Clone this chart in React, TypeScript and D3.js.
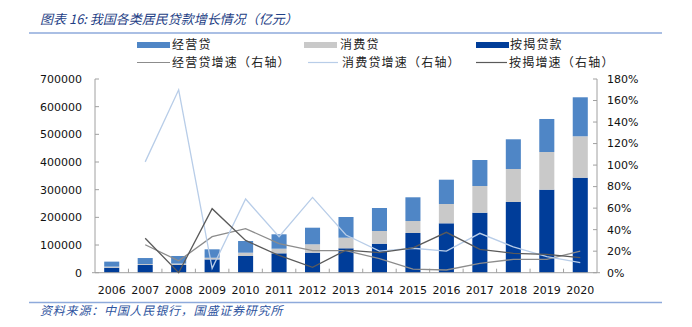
import React from "react";
import * as d3 from "d3";

const years = ["2006","2007","2008","2009","2010","2011","2012","2013","2014","2015","2016","2017","2018","2019","2020"];
const mortgage = [18000, 27800, 28000, 48000, 60400, 70000, 72300, 88200, 104800, 143500, 178500, 216800, 255500, 300000, 343300];
const consumer = [4000, 3500, 5000, 6000, 11900, 16700, 30300, 38300, 45900, 43300, 69800, 96500, 119300, 136200, 149700];
const business = [18000, 21700, 27400, 30500, 42200, 52100, 60000, 74800, 83100, 85700, 87800, 94000, 107300, 119300, 140900];
const busGrowth = [null, 26, 11, 33.5, 41, 27, 20.5, 20.5, 13, 3.4, 2.5, 8.7, 12.4, 12.4, 20];
const conGrowth = [null, 103, 170, 4, 68.5, 33.5, 70, 35, 20, 22.7, 20, 36.6, 24, 15, 9.3];
const mortGrowth = [null, 32, 0, 59.5, 30, 16, 5, 21, 18.6, 23, 37.5, 21.7, 18, 17, 14];
const leftTicks = [0, 100000, 200000, 300000, 400000, 500000, 600000, 700000];
const rightTicks = [0, 20, 40, 60, 80, 100, 120, 140, 160, 180];

const C_BUS = "#4f86c6";
const C_CON = "#c9c9c9";
const C_MORT = "#003d99";
const C_BUSG = "#8c8c8c";
const C_CONG = "#b8cde8";
const C_MORTG = "#5a5a5a";
const AXIS = "#a0a0a0";
const NUMFONT = "'DejaVu Sans', Verdana, sans-serif";
const CJK = "'Noto Sans CJK SC', sans-serif";

export default function App() {
  const W = 692, H = 327;
  const x0 = 95, x1 = 597, yTop = 79, yBot = 272.7;
  const x = d3.scaleBand<string>().domain(years).range([x0, x1]).paddingInner(0.55).paddingOuter(0.275);
  const xb = d3.scaleBand<string>().domain(years).range([x0, x1]);
  const yL = d3.scaleLinear().domain([0, 700000]).range([yBot, yTop]);
  const yR = d3.scaleLinear().domain([0, 180]).range([yBot, yTop]);

  const rows = years.map((yr, i) => ({ yr, mortgage: mortgage[i], consumer: consumer[i], business: business[i] }));
  const stack = d3.stack<any>().keys(["mortgage", "consumer", "business"])(rows);
  const colors: Record<string, string> = { mortgage: C_MORT, consumer: C_CON, business: C_BUS };

  const cx = (i: number) => (xb(years[i]) as number) + xb.bandwidth() / 2;
  const line = d3.line<number | null>()
    .defined((d) => d !== null)
    .x((_, i) => cx(i))
    .y((d) => yR(d as number));

  const series = [
    { data: busGrowth, color: C_BUSG },
    { data: conGrowth, color: C_CONG },
    { data: mortGrowth, color: C_MORTG },
  ];

  return (
    <svg width={W} height={H} style={{ position: "absolute", left: 0, top: 0, background: "#fff" }}>
      <text x={40} y={24} fontFamily={CJK} fontSize={13} fontStyle="italic" fill="#1f3f86">
        图表 16: 我国各类居民贷款增长情况（亿元）
      </text>
      <line x1={29} x2={662} y1={33} y2={33} stroke="#8eaadb" strokeWidth={1.5} />

      {/* legend */}
      <g fontFamily={CJK} fontSize={12} fill="#222" letterSpacing={1.2}>
        <rect x={137} y={42} width={33} height={6} fill={C_BUS} />
        <text x={172} y={49}>经营贷</text>
        <rect x={304} y={42} width={33} height={6} fill={C_CON} />
        <text x={340} y={49}>消费贷</text>
        <rect x={476} y={42} width={33} height={6} fill={C_MORT} />
        <text x={510} y={49}>按揭贷款</text>
        <line x1={137} x2={170} y1={62.5} y2={62.5} stroke={C_BUSG} strokeWidth={1.2} />
        <text x={172} y={67}>经营贷增速（右轴）</text>
        <line x1={308} x2={338} y1={62.5} y2={62.5} stroke={C_CONG} strokeWidth={1.2} />
        <text x={342} y={67}>消费贷增速（右轴）</text>
        <line x1={476} x2={507} y1={62.5} y2={62.5} stroke={C_MORTG} strokeWidth={1.2} />
        <text x={509} y={67}>按揭增速（右轴）</text>
      </g>

      {/* bars */}
      {stack.map((s) => (
        <g key={s.key} fill={colors[s.key]}>
          {s.map((d, i) => (
            <rect key={i} x={x(years[i])} width={x.bandwidth()} y={yL(d[1])} height={yL(d[0]) - yL(d[1])} />
          ))}
        </g>
      ))}

      {/* axes */}
      <g stroke={AXIS} strokeWidth={1}>
        <line x1={x0} x2={x0} y1={yTop} y2={yBot} />
        <line x1={x1} x2={x1} y1={yTop} y2={yBot} />
        <line x1={x0 - 3} x2={x1 + 3} y1={yBot} y2={yBot} />
        {leftTicks.map((t) => (
          <line key={t} x1={x0} x2={x0 + 4} y1={yL(t)} y2={yL(t)} />
        ))}
        {rightTicks.map((t) => (
          <line key={t} x1={x1 - 4} x2={x1} y1={yR(t)} y2={yR(t)} />
        ))}
        {years.slice(1).map((yr) => (
          <line key={yr} x1={xb(yr)} x2={xb(yr)} y1={yBot} y2={yBot - 4} />
        ))}
      </g>

      {/* lines */}
      {series.map((s, k) => (
        <path key={k} d={line(s.data) || ""} fill="none" stroke={s.color} strokeWidth={1.3} />
      ))}

      <g fontFamily={NUMFONT} fontSize={11} fill="#111">
        {leftTicks.map((t) => (
          <text key={t} x={82} y={yL(t)} dy="0.35em" textAnchor="end">{t}</text>
        ))}
        {rightTicks.map((t) => (
          <text key={t} x={607} y={yR(t)} dy="0.35em">{t}%</text>
        ))}
        {years.map((yr, i) => (
          <text key={yr} x={cx(i)} y={290} dy="0.35em" textAnchor="middle">{yr}</text>
        ))}
      </g>

      <line x1={29} x2={662} y1={302.5} y2={302.5} stroke="#8eaadb" strokeWidth={1.5} />
      <text x={40} y={315} fontFamily={CJK} fontSize={12} fontStyle="italic" fill="#2f55a0" letterSpacing={0.8}>
        资料来源：中国人民银行，国盛证券研究所
      </text>
    </svg>
  );
}
